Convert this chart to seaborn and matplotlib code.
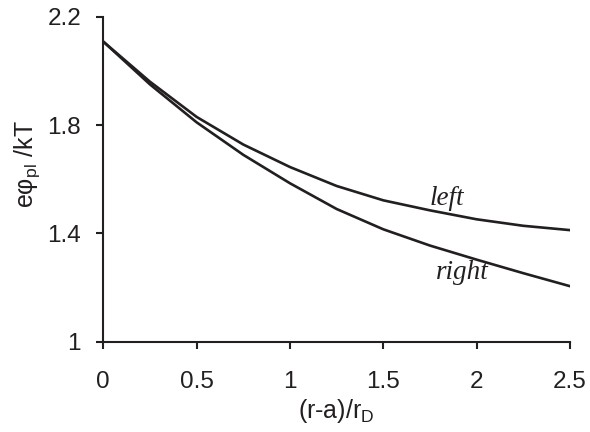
import numpy as np
import pandas as pd
import matplotlib
matplotlib.use("Agg")
import matplotlib.pyplot as plt
import seaborn as sns

# ====== data ======
x_vals = [0.0, 0.25, 0.5, 0.75, 1.0, 1.25, 1.5, 1.75, 2.0, 2.25, 2.5]
left_vals = [2.108, 1.96, 1.83, 1.728, 1.645, 1.575, 1.522, 1.485, 1.452, 1.428, 1.412]
right_vals = [2.108, 1.95, 1.81, 1.69, 1.585, 1.49, 1.415, 1.355, 1.303, 1.253, 1.205]
x_ticks = [0, 0.5, 1, 1.5, 2, 2.5]
x_tick_labels = ["0", "0.5", "1", "1.5", "2", "2.5"]
y_ticks = [1, 1.4, 1.8, 2.2]
y_tick_labels = ["1", "1.4", "1.8", "2.2"]

df = pd.DataFrame({
    "x": x_vals * 2,
    "y": left_vals + right_vals,
    "side": ["left"] * len(x_vals) + ["right"] * len(x_vals),
})

# ====== style ======
sns.set_style("ticks")
plt.rcParams["font.family"] = ["Liberation Sans", "DejaVu Sans"]
plt.rcParams["mathtext.fontset"] = "custom"
plt.rcParams["mathtext.rm"] = "Liberation Sans"
plt.rcParams["mathtext.it"] = "Liberation Sans:italic"

ink = "#231f20"

fig = plt.figure(figsize=(5.9, 4.32), dpi=100)
ax = fig.add_axes([0.1751, 0.2090, 0.7910, 0.7523])

sns.lineplot(data=df, x="x", y="y", hue="side", palette=[ink, ink],
             linewidth=1.9, legend=False, ax=ax)

ax.set_xlim(0, 2.5)
ax.set_ylim(1, 2.2)
ax.set_xticks(x_ticks)
ax.set_xticklabels(x_tick_labels)
ax.set_yticks(y_ticks)
ax.set_yticklabels(y_tick_labels)

for s in ["top", "right"]:
    ax.spines[s].set_visible(False)
for s in ["left", "bottom"]:
    ax.spines[s].set_linewidth(1.5)
    ax.spines[s].set_color(ink)
    ax.spines[s].set_clip_on(False)

ax.tick_params(axis="both", direction="out", length=5, width=1.5,
               colors=ink, labelsize=17.5)
ax.tick_params(axis="x", pad=16)
ax.tick_params(axis="y", pad=11)

ax.set_xlabel(r"(r-a)/r$_{\mathrm{D}}$", fontsize=18, color=ink, labelpad=3)
ax.set_ylabel(r"e$\mathrm{\varphi}_{\mathrm{pl}}$ /kT", fontsize=18, color=ink, va="center")
ax.yaxis.set_label_coords(-0.163, 0.547)

ax.text(1.84, 1.506, "left", fontsize=19.5, style="italic", color=ink,
        family=["Liberation Serif", "DejaVu Serif"], ha="center", va="baseline")
ax.text(1.925, 1.231, "right", fontsize=19.5, style="italic", color=ink,
        family=["Liberation Serif", "DejaVu Serif"], ha="center", va="baseline")

fig.savefig("out.png", dpi=100)
